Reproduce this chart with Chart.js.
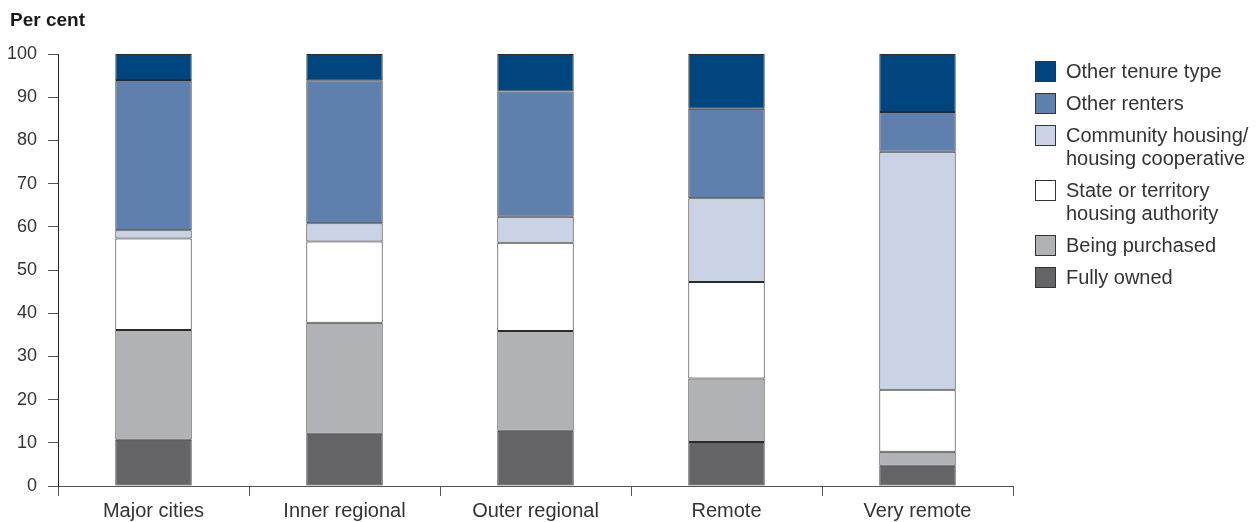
<!DOCTYPE html>
<html>
<head>
<meta charset="utf-8">
<script src="https://cdn.jsdelivr.net/npm/chart.js@4/dist/chart.umd.min.js"></script>
<style>
  body { margin: 0; background: #fff; font-family: "Liberation Sans", Arial, sans-serif; }
  #wrap { position: relative; width: 1257px; height: 522px; }
  #titulo { position: absolute; left: 10px; top: 9px; font-size: 19px; font-weight: bold; color: #1a1a1a; }
  #legenda { position: absolute; left: 1035px; top: 60px; color: #333; font-size: 20px; }
  .item { position: relative; padding-left: 31px; line-height: 23px; margin-bottom: 9px; white-space: nowrap; }
  .item span { position: absolute; left: 0; top: 1px; width: 19px; height: 19px; border: 1px solid #333; }
</style>
</head>
<body>
<div id="wrap">
  <canvas id="myChart" width="1257" height="522"></canvas>
  <div id="titulo">Per cent</div>
  <div id="legenda"></div>
</div>
<script>
const categorias = ['Major cities', 'Inner regional', 'Outer regional', 'Remote', 'Very remote'];

const fullyOwned = [10.7, 12.1, 12.8, 10.2, 4.7];
const beingPurchased = [25.4, 25.7, 23.1, 14.7, 3.2];
const stateHousing = [21.2, 18.8, 20.4, 22.3, 14.4];
const communityHousing = [1.9, 4.2, 6.0, 19.4, 55.1];
const otherRenters = [34.8, 33.1, 29.0, 20.7, 9.2];
const otherTenure = [6.0, 6.1, 8.7, 12.7, 13.4];

const yTicks = [0, 10, 20, 30, 40, 50, 60, 70, 80, 90, 100];

const series = [
  { label: ['Fully owned'], data: fullyOwned, cor: '#646466' },
  { label: ['Being purchased'], data: beingPurchased, cor: '#b1b2b5' },
  { label: ['State or territory', 'housing authority'], data: stateHousing, cor: '#ffffff' },
  { label: ['Community housing/', 'housing cooperative'], data: communityHousing, cor: '#c9d3e5' },
  { label: ['Other renters'], data: otherRenters, cor: '#5f7fac' },
  { label: ['Other tenure type'], data: otherTenure, cor: '#00457e' }
];

const ctx = document.getElementById('myChart');

new Chart(ctx, {
  type: 'bar',
  data: {
    labels: categorias,
    datasets: series.map(s => ({
      label: s.label.join(' '),
      data: s.data,
      backgroundColor: s.cor,
      borderColor: '#2b2b2b',
      borderWidth: 1,
      borderSkipped: false,
      barPercentage: 0.4,
      categoryPercentage: 1
    }))
  },
  options: {
    responsive: false,
    animation: false,
    layout: { padding: { left: 7, right: 244, top: 54, bottom: 0 } },
    plugins: { legend: { display: false }, tooltip: { enabled: false } },
    scales: {
      x: {
        stacked: true,
        afterFit: axis => { axis.height = 36; },
        grid: { drawOnChartArea: false, tickLength: 10, color: '#555' },
        border: { color: '#555' },
        ticks: { color: '#333', font: { family: 'Liberation Sans', size: 20 }, padding: 3 }
      },
      y: {
        stacked: true,
        min: 0,
        max: 100,
        afterBuildTicks: axis => { axis.ticks = yTicks.map(v => ({ value: v })); },
        afterFit: axis => { axis.width = 51; },
        grid: { drawOnChartArea: false, tickLength: 10, color: '#555' },
        border: { color: '#222' },
        ticks: { color: '#333', font: { family: 'Liberation Sans', size: 18 }, padding: 11 }
      }
    }
  }
});

// legenda na ordem inversa (de cima para baixo)
const legenda = document.getElementById('legenda');
series.slice().reverse().forEach(s => {
  const div = document.createElement('div');
  div.className = 'item';
  div.innerHTML = '<span style="background:' + s.cor + '"></span>' + s.label.join('<br>');
  legenda.appendChild(div);
});
</script>
</body>
</html>
